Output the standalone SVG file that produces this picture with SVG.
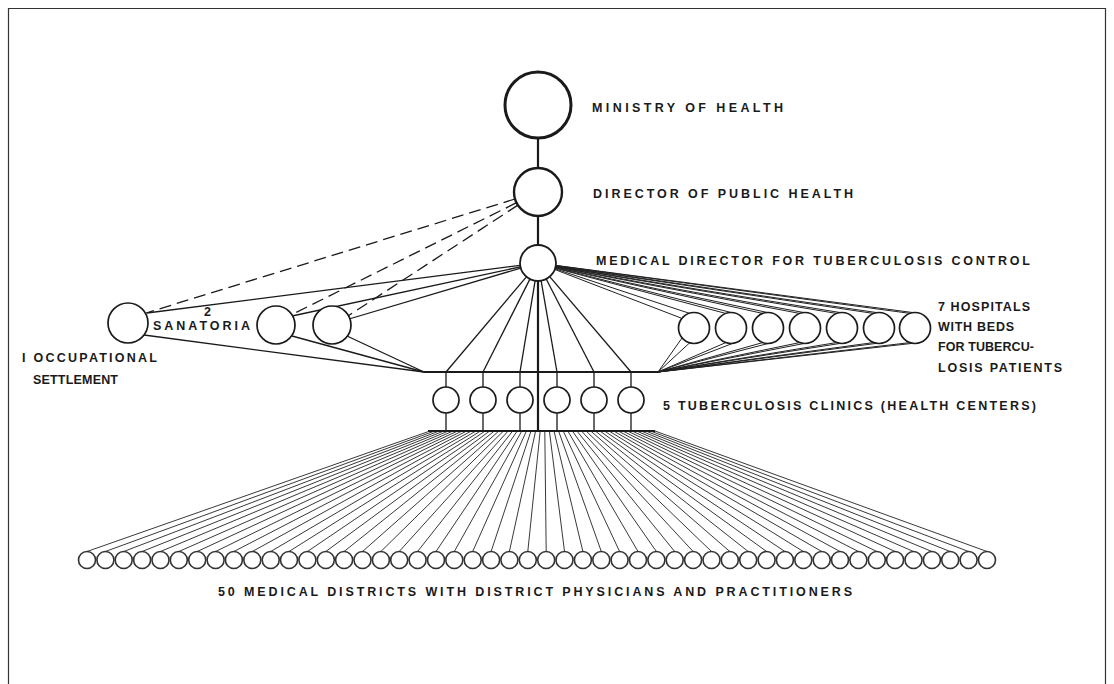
<svg xmlns="http://www.w3.org/2000/svg" width="1114" height="684" viewBox="0 0 1114 684">
<style>
.bg{fill:#ffffff}
.frame{fill:none;stroke:#333;stroke-width:1.2}
.node{fill:#fff;stroke:#1a1a1a;stroke-width:1.8}
.big{stroke-width:3}
.mid{stroke-width:2.4}
.small{stroke-width:1.7}
.dist{fill:#fff;stroke:#333;stroke-width:1.6}
.c{stroke:#1a1a1a;stroke-width:1.3;fill:none}
.h{stroke:#222;stroke-width:1;fill:none}
.thick{stroke-width:2.2}
.bar{stroke:#1a1a1a;stroke-width:2;fill:none}
.dash{stroke-dasharray:12 6}
.f{stroke:#222;stroke-width:0.9;fill:none}
.t{font-family:"Liberation Sans",Arial,sans-serif;font-weight:bold;font-size:12.5px;fill:#1a1a1a}
</style>
<rect class="bg" x="0" y="0" width="1114" height="684"/>
<path class="frame" d="M8.5,690 V8.5 H1105.5 V690"/>

<g id="connectors">
  <line class="c thick" x1="538" y1="138" x2="538" y2="168"/>
  <line class="c thick" x1="538" y1="216" x2="538" y2="245"/>
  <line class="c dash" x1="515" y1="199" x2="146" y2="313"/>
  <line class="c dash" x1="516.5" y1="202.7" x2="293" y2="314"/>
  <line class="c dash" x1="517.9" y1="205.1" x2="348" y2="316"/>
  <line class="c" x1="520.1" y1="265.3" x2="147" y2="313"/>
  <line class="c" x1="520.4" y1="266.8" x2="292" y2="316"/>
  <line class="c" x1="520.7" y1="268.1" x2="349" y2="319"/>
  <line class="c" x1="144" y1="335" x2="424" y2="372"/>
  <line class="c" x1="292" y1="336" x2="424" y2="372"/>
  <line class="c" x1="347" y1="336" x2="424" y2="372"/>
  <line class="bar" x1="424" y1="372" x2="658" y2="372"/>
  <line class="c" x1="526.4" y1="276.8" x2="446" y2="372"/>
  <line class="c" x1="529.9" y1="279.1" x2="483" y2="372"/>
  <line class="c" x1="535.1" y1="280.8" x2="520" y2="372"/>
  <line class="c thick" x1="538" y1="281" x2="538" y2="431"/>
  <line class="c" x1="541.1" y1="280.7" x2="557" y2="372"/>
  <line class="c" x1="546.2" y1="279" x2="594" y2="372"/>
  <line class="c" x1="549.7" y1="276.7" x2="631" y2="372"/>
  <path class="h" d="M554.8,269.5L681,318M555,268.8L690,313.5M555.2,268.2L726,313.5M555.3,267.7L735,313.5M555.4,267.4L763,313.5M555.5,267.1L772,313.5M555.5,266.8L800,313.5M555.6,266.5L809,313.5M555.6,266.3L837,313.5M555.7,266.1L846,313.5M555.7,265.9L874,313.5M555.8,265.7L883,313.5M555.8,265.5L911,313.5M555.8,265.4L920,313.5"/>
  <path class="h" d="M658,372L682,338M658,372L690,342.5M658,372L726,342.5M658,372L735,342.5M658,372L763,342.5M658,372L772,342.5M658,372L800,342.5M658,372L809,342.5M658,372L837,342.5M658,372L846,342.5M658,372L874,342.5M658,372L883,342.5M658,372L911,342.5M658,372L920,342.5"/>
  <path class="c" d="M446,372V387M446,413V431M483,372V387M483,413V431M520,372V387M520,413V431M557,372V387M557,413V431M594,372V387M594,413V431M631,372V387M631,413V431"/>
  <line class="bar" x1="428" y1="431" x2="655" y2="431"/>
  <path class="f" d="M430,431L87,551.5M434.6,431L105.4,551.5M439.2,431L123.7,551.5M443.8,431L142.1,551.5M448.4,431L160.5,551.5M453,431L178.8,551.5M457.6,431L197.2,551.5M462.1,431L215.6,551.5M466.7,431L233.9,551.5M471.3,431L252.3,551.5M475.9,431L270.7,551.5M480.5,431L289,551.5M485.1,431L307.4,551.5M489.7,431L325.8,551.5M494.3,431L344.1,551.5M498.9,431L362.5,551.5M503.5,431L380.9,551.5M508.1,431L399.2,551.5M512.7,431L417.6,551.5M517.2,431L436,551.5M521.8,431L454.3,551.5M526.4,431L472.7,551.5M531,431L491.1,551.5M535.6,431L509.4,551.5M540.2,431L527.8,551.5M544.8,431L546.2,551.5M549.4,431L564.5,551.5M554,431L582.9,551.5M558.6,431L601.3,551.5M563.2,431L619.6,551.5M567.8,431L638,551.5M572.4,431L656.4,551.5M576.9,431L674.7,551.5M581.5,431L693.1,551.5M586.1,431L711.5,551.5M590.7,431L729.8,551.5M595.3,431L748.2,551.5M599.9,431L766.6,551.5M604.5,431L784.9,551.5M609.1,431L803.3,551.5M613.7,431L821.7,551.5M618.3,431L840,551.5M622.9,431L858.4,551.5M627.5,431L876.8,551.5M632.1,431L895.1,551.5M636.7,431L913.5,551.5M641.2,431L931.9,551.5M645.8,431L950.2,551.5M650.4,431L968.6,551.5M655,431L987,551.5"/>
</g>

<g id="ministry"><circle class="node big" cx="538" cy="105" r="33"/><text class="t" x="592" y="112" textLength="191" lengthAdjust="spacing">MINISTRY OF HEALTH</text></g>
<g id="director-public-health"><circle class="node mid" cx="538" cy="192" r="24"/><text class="t" x="593" y="198" textLength="260" lengthAdjust="spacing">DIRECTOR OF PUBLIC HEALTH</text></g>
<g id="medical-director"><circle class="node" cx="538" cy="263" r="18"/><text class="t" x="596" y="265" textLength="434" lengthAdjust="spacing">MEDICAL DIRECTOR FOR TUBERCULOSIS CONTROL</text></g>

<g id="occupational-settlement"><circle class="node small" cx="128" cy="323" r="20"/>
<text class="t" x="22" y="362" textLength="135" lengthAdjust="spacing">I OCCUPATIONAL</text>
<text class="t" x="33" y="384" textLength="85" lengthAdjust="spacing">SETTLEMENT</text></g>

<g id="sanatoria">
<circle class="node small" cx="276" cy="325" r="19"/>
<circle class="node small" cx="332" cy="325" r="19"/>
<text class="t" x="204" y="316">2</text>
<text class="t" x="153" y="330" textLength="97" lengthAdjust="spacing">SANATORIA</text></g>

<g id="hospitals">
<circle class="node small" cx="694" cy="328" r="15.5"/>
<circle class="node small" cx="731" cy="328" r="15.5"/>
<circle class="node small" cx="768" cy="328" r="15.5"/>
<circle class="node small" cx="805" cy="328" r="15.5"/>
<circle class="node small" cx="842" cy="328" r="15.5"/>
<circle class="node small" cx="879" cy="328" r="15.5"/>
<circle class="node small" cx="915" cy="328" r="15.5"/>
<text class="t" x="938" y="311" textLength="92" lengthAdjust="spacing">7 HOSPITALS</text>
<text class="t" x="938" y="331" textLength="76" lengthAdjust="spacing">WITH BEDS</text>
<text class="t" x="938" y="351" textLength="96" lengthAdjust="spacing">FOR TUBERCU-</text>
<text class="t" x="938" y="372" textLength="124" lengthAdjust="spacing">LOSIS PATIENTS</text></g>

<g id="clinics">
<circle class="node small" cx="446" cy="400" r="13"/>
<circle class="node small" cx="483" cy="400" r="13"/>
<circle class="node small" cx="520" cy="400" r="13"/>
<circle class="node small" cx="557" cy="400" r="13"/>
<circle class="node small" cx="594" cy="400" r="13"/>
<circle class="node small" cx="631" cy="400" r="13"/>
<text class="t" x="663" y="410" textLength="373" lengthAdjust="spacing">5 TUBERCULOSIS CLINICS (HEALTH CENTERS)</text></g>

<g id="districts">
<circle class="dist" cx="87" cy="560" r="8.5"/><circle class="dist" cx="105.4" cy="560" r="8.5"/><circle class="dist" cx="123.7" cy="560" r="8.5"/><circle class="dist" cx="142.1" cy="560" r="8.5"/><circle class="dist" cx="160.5" cy="560" r="8.5"/><circle class="dist" cx="178.8" cy="560" r="8.5"/><circle class="dist" cx="197.2" cy="560" r="8.5"/><circle class="dist" cx="215.6" cy="560" r="8.5"/><circle class="dist" cx="233.9" cy="560" r="8.5"/><circle class="dist" cx="252.3" cy="560" r="8.5"/>
<circle class="dist" cx="270.7" cy="560" r="8.5"/><circle class="dist" cx="289" cy="560" r="8.5"/><circle class="dist" cx="307.4" cy="560" r="8.5"/><circle class="dist" cx="325.8" cy="560" r="8.5"/><circle class="dist" cx="344.1" cy="560" r="8.5"/><circle class="dist" cx="362.5" cy="560" r="8.5"/><circle class="dist" cx="380.9" cy="560" r="8.5"/><circle class="dist" cx="399.2" cy="560" r="8.5"/><circle class="dist" cx="417.6" cy="560" r="8.5"/><circle class="dist" cx="436" cy="560" r="8.5"/>
<circle class="dist" cx="454.3" cy="560" r="8.5"/><circle class="dist" cx="472.7" cy="560" r="8.5"/><circle class="dist" cx="491.1" cy="560" r="8.5"/><circle class="dist" cx="509.4" cy="560" r="8.5"/><circle class="dist" cx="527.8" cy="560" r="8.5"/><circle class="dist" cx="546.2" cy="560" r="8.5"/><circle class="dist" cx="564.5" cy="560" r="8.5"/><circle class="dist" cx="582.9" cy="560" r="8.5"/><circle class="dist" cx="601.3" cy="560" r="8.5"/><circle class="dist" cx="619.6" cy="560" r="8.5"/>
<circle class="dist" cx="638" cy="560" r="8.5"/><circle class="dist" cx="656.4" cy="560" r="8.5"/><circle class="dist" cx="674.7" cy="560" r="8.5"/><circle class="dist" cx="693.1" cy="560" r="8.5"/><circle class="dist" cx="711.5" cy="560" r="8.5"/><circle class="dist" cx="729.8" cy="560" r="8.5"/><circle class="dist" cx="748.2" cy="560" r="8.5"/><circle class="dist" cx="766.6" cy="560" r="8.5"/><circle class="dist" cx="784.9" cy="560" r="8.5"/><circle class="dist" cx="803.3" cy="560" r="8.5"/>
<circle class="dist" cx="821.7" cy="560" r="8.5"/><circle class="dist" cx="840" cy="560" r="8.5"/><circle class="dist" cx="858.4" cy="560" r="8.5"/><circle class="dist" cx="876.8" cy="560" r="8.5"/><circle class="dist" cx="895.1" cy="560" r="8.5"/><circle class="dist" cx="913.5" cy="560" r="8.5"/><circle class="dist" cx="931.9" cy="560" r="8.5"/><circle class="dist" cx="950.2" cy="560" r="8.5"/><circle class="dist" cx="968.6" cy="560" r="8.5"/><circle class="dist" cx="987" cy="560" r="8.5"/>
<text class="t" x="218" y="596" textLength="634" lengthAdjust="spacing">50 MEDICAL DISTRICTS WITH DISTRICT PHYSICIANS AND PRACTITIONERS</text></g>
</svg>
